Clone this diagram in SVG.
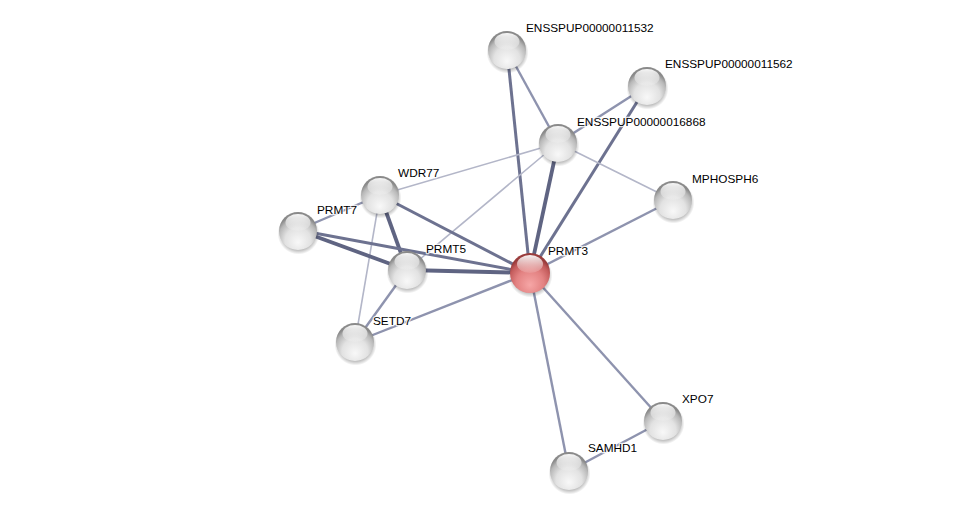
<svg xmlns="http://www.w3.org/2000/svg" width="976" height="515" viewBox="0 0 976 515">
<defs>
<radialGradient id="gGray" cx="50%" cy="72%" r="62%" fx="50%" fy="80%">
<stop offset="0" stop-color="#f8f8f8"/>
<stop offset="0.55" stop-color="#e2e2e2"/>
<stop offset="0.85" stop-color="#b8b8b8"/>
<stop offset="1" stop-color="#8a8a8a"/>
</radialGradient>
<radialGradient id="gRed" cx="50%" cy="72%" r="62%" fx="50%" fy="80%">
<stop offset="0" stop-color="#f6a6a6"/>
<stop offset="0.55" stop-color="#e38282"/>
<stop offset="0.85" stop-color="#c45c5c"/>
<stop offset="1" stop-color="#9a3c3c"/>
</radialGradient>
<linearGradient id="gHi" x1="0" y1="0" x2="0" y2="1">
<stop offset="0" stop-color="#ffffff" stop-opacity="0.95"/>
<stop offset="1" stop-color="#ffffff" stop-opacity="0.1"/>
</linearGradient>
<radialGradient id="gShadow" cx="50%" cy="50%" r="50%">
<stop offset="0.75" stop-color="#000" stop-opacity="0.3"/>
<stop offset="1" stop-color="#000" stop-opacity="0"/>
</radialGradient>
<g id="sphere">
<circle cx="0.5" cy="2.5" r="21" fill="url(#gShadow)"/>
<circle r="19" fill="url(#gGray)"/>
<ellipse cx="0" cy="-8.5" rx="12.5" ry="8.5" fill="url(#gHi)"/>
</g>
<g id="sphereRed">
<circle cx="0.5" cy="2.5" r="22" fill="url(#gShadow)"/>
<circle r="20" fill="url(#gRed)"/>
<ellipse cx="0" cy="-9" rx="13" ry="9" fill="url(#gHi)"/>
</g>
</defs>
<style>
.e{fill:none;stroke-linecap:butt}
.t{stroke:#b3b6c8;stroke-width:1.6}
.m{stroke:#8e93ae;stroke-width:2.4}
.d{stroke:#6d7290;stroke-width:3}
.k{stroke:#5f6482;stroke-width:3.8}
text{font-family:"Liberation Sans",Arial,sans-serif;font-size:11.8px;fill:#000;paint-order:stroke;stroke:#ffffff;stroke-opacity:0.8;stroke-width:2.5px;stroke-linejoin:round}
</style>
<rect width="976" height="515" fill="#ffffff"/>
<g id="edges">
<line class="e d" x1="507" y1="50" x2="530" y2="273"/>
<line class="e m" x1="507" y1="50" x2="558" y2="143"/>
<line class="e m" x1="647" y1="86" x2="558" y2="143"/>
<line class="e d" x1="647" y1="86" x2="530" y2="273"/>
<line class="e k" x1="558" y1="143" x2="530" y2="273"/>
<line class="e t" x1="558" y1="143" x2="673" y2="200"/>
<line class="e t" x1="558" y1="143" x2="380" y2="195"/>
<line class="e t" x1="558" y1="143" x2="407" y2="270"/>
<line class="e m" x1="673" y1="200" x2="530" y2="273"/>
<line class="e m" x1="380" y1="195" x2="298" y2="230"/>
<line class="e k" x1="380" y1="195" x2="407" y2="270"/>
<line class="e d" x1="380" y1="195" x2="530" y2="273"/>
<line class="e t" x1="380" y1="195" x2="355" y2="342"/>
<line class="e k" x1="298" y1="230" x2="407" y2="270"/>
<line class="e d" x1="298" y1="230" x2="530" y2="273"/>
<line class="e k" x1="407" y1="270" x2="530" y2="273"/>
<line class="e m" x1="407" y1="270" x2="355" y2="342"/>
<line class="e m" x1="355" y1="342" x2="530" y2="273"/>
<line class="e m" x1="530" y1="273" x2="569" y2="471"/>
<line class="e m" x1="530" y1="273" x2="663" y2="421"/>
<line class="e m" x1="663" y1="421" x2="569" y2="471"/>
</g>
<g id="n11532"><use href="#sphere" x="507" y="50"/><text x="526" y="32">ENSSPUP00000011532</text></g>
<g id="n11562"><use href="#sphere" x="647" y="86"/><text x="665" y="68">ENSSPUP00000011562</text></g>
<g id="n16868"><use href="#sphere" x="558" y="143"/><text x="577" y="126">ENSSPUP00000016868</text></g>
<g id="nMPHOSPH6"><use href="#sphere" x="673" y="200"/><text x="692" y="183">MPHOSPH6</text></g>
<g id="nWDR77"><use href="#sphere" x="380" y="195"/><text x="398" y="177">WDR77</text></g>
<g id="nPRMT7"><use href="#sphere" x="298" y="231"/><text x="317" y="214">PRMT7</text></g>
<g id="nPRMT5"><use href="#sphere" x="407" y="270"/><text x="426" y="253">PRMT5</text></g>
<g id="nSETD7"><use href="#sphere" x="355" y="342"/><text x="373" y="325">SETD7</text></g>
<g id="nPRMT3"><use href="#sphereRed" x="530" y="273"/><text x="548" y="255">PRMT3</text></g>
<g id="nXPO7"><use href="#sphere" x="663" y="421"/><text x="682" y="403">XPO7</text></g>
<g id="nSAMHD1"><use href="#sphere" x="569" y="471"/><text x="588" y="452">SAMHD1</text></g>
</svg>
